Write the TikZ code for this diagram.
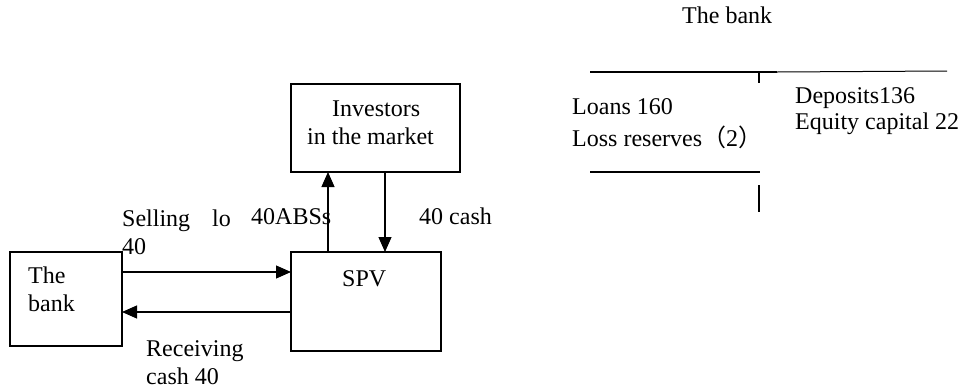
\documentclass[tikz,border=0pt]{standalone}
\usepackage{fontspec}
\setmainfont{Liberation Serif}
\newfontfamily\cjk{Noto Sans CJK SC}
\usetikzlibrary{arrows.meta}
\begin{document}
\begin{tikzpicture}[x=1pt,y=-1pt,
  every node/.style={font=\fontsize{24}{28}\selectfont, inner sep=0pt},
  txt/.style={anchor=base west},
  box/.style={draw, line width=1.5pt, anchor=north west, outer sep=0pt},
  arr/.style={line width=1.2pt, -{Triangle[length=15pt,width=13pt]}},
  heavy/.style={line width=2pt},
  lite/.style={line width=1pt},
  tickline/.style={line width=1.6pt}]
\useasboundingbox (0,0) rectangle (959,389);

% boxes
\node[box, minimum width=112pt, minimum height=94pt] (bank) at (10,252) {};
\node[box, minimum width=150pt, minimum height=99pt] (spv) at (291,252) {};
\node[box, minimum width=169pt, minimum height=88pt] (inv) at (291,84) {};

% box texts
\node[txt] (bankA) at (28,283) {The};
\node[txt] (bankB) at (28,311) {bank};
\node[txt] (spvlbl) at (342,286) {SPV};
\node[txt] (inv1) at (332,116) {Investors};
\node[txt] (inv2) at (307,144) {in the market};

% connectors
\draw[arr] (bank.east |- 0,272) -- (spv.west |- 0,272);
\draw[arr] (spv.west |- 0,312) -- (bank.east |- 0,312);
\draw[arr] (spv.north -| 328,0) -- (inv.south -| 328,0);
\draw[arr] (inv.south -| 385,0) -- (spv.north -| 385,0);

% connector labels
\node[txt] (sell) at (122,226) {Selling};
\node[txt] (lo) at (212,226) {lo};
\node[txt] (sell40) at (122,254) {40};
\node[txt] (abs) at (251,224) {40ABSs};
\node[txt] (cash) at (419,224) {40 cash};
\node[txt] (rec1) at (146,356) {Receiving};
\node[txt] (rec2) at (146,384) {cash 40};

% T-account
\node[txt] (title) at (682,23) {The bank};
\node[txt] (loans) at (572,114) {Loans 160};
\node[txt] (loss) at (572,146) {Loss reserves{\cjk （}2{\cjk ）}};
\node[txt] (dep) at (795,103) {Deposits136};
\node[txt] (eq) at (795,129) {Equity capital 22};

\coordinate (tl) at (590,72);
\coordinate (tm) at (777,72);
\coordinate (tr) at (947,71);
\coordinate (t1) at (759,72);
\coordinate (t2) at (759,83);
\coordinate (bl) at (590,172);
\coordinate (br) at (760,172);
\coordinate (v1) at (759,185);
\coordinate (v2) at (759,212);
\draw[heavy] (tl) -- (tm);
\draw[lite] (tm) -- (tr);
\draw[tickline] (t1) -- (t2);
\draw[heavy] (bl) -- (br);
\draw[tickline] (v1) -- (v2);
\end{tikzpicture}
\end{document}
